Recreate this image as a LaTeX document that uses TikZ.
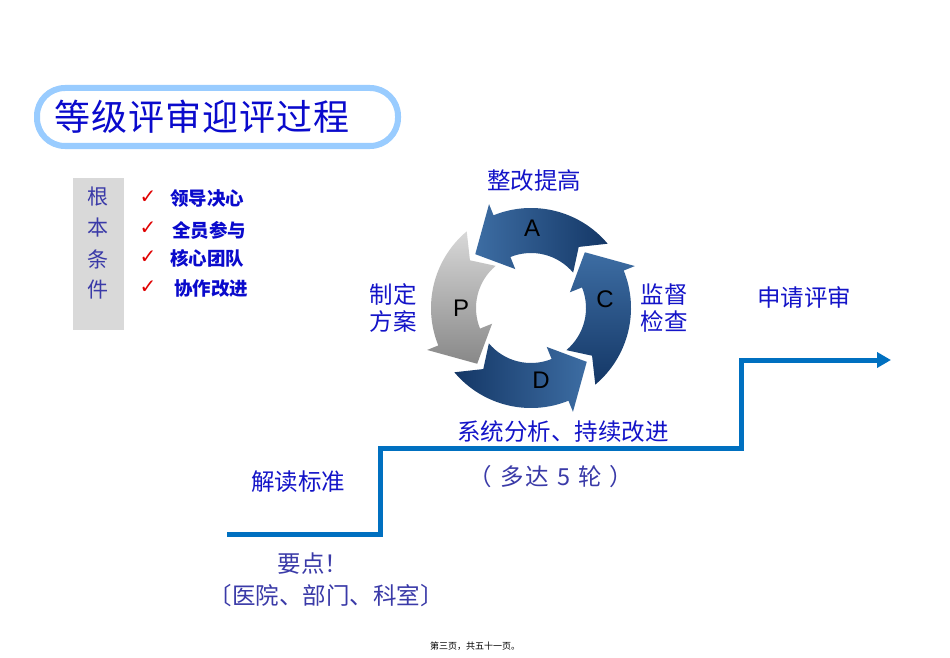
\documentclass[tikz,border=0pt]{standalone}
\usepackage{fontspec}
\newfontfamily\cjk{Noto Sans CJK SC}
\newfontfamily\latf{Liberation Sans}
\newfontfamily\symf{DejaVu Sans}
\usetikzlibrary{calc,arrows.meta}
\definecolor{ttlblue}{HTML}{0A0ACC}
\definecolor{lblblue}{HTML}{1414C8}
\definecolor{softblue}{HTML}{3A3AA8}
\definecolor{boxblue}{HTML}{99CCFF}
\definecolor{condgray}{HTML}{D9D9D9}
\definecolor{stepblue}{HTML}{0070C0}
\definecolor{bluedark}{HTML}{143766}
\definecolor{bluelight}{HTML}{3D6DA3}
\definecolor{graylight}{HTML}{D8D8D8}
\definecolor{graydark}{HTML}{888888}
\definecolor{checkred}{HTML}{E00000}
\newcommand\pdcaarrow[2]{%
  \path[#2] ($(c)+(#1:100)$) arc[start angle=#1, end angle={#1+72}, radius=100]
    -- ($(c)+({#1+72}:112)$) -- ($(c)+({#1+96}:77.5)$) -- ($(c)+({#1+72}:42)$)
    -- ($(c)+({#1+72}:55)$) arc[start angle={#1+72}, end angle=#1, radius=55]
    -- ($(c)+({#1+12}:77.5)$) -- cycle;}
\begin{document}
\begin{tikzpicture}[x=1pt,y=1pt,
  lbl/.style={font=\cjk\fontsize{23.5}{28}\selectfont, text=lblblue, inner sep=0pt},
  soft/.style={font=\cjk\fontsize{23.5}{28}\selectfont, text=softblue, inner sep=0pt},
  item/.style={font=\cjk\bfseries\fontsize{18.5}{22}\selectfont, text=ttlblue, anchor=west, inner sep=0pt},
  chk/.style={font=\symf\fontsize{20}{22}\selectfont, text=checkred, inner sep=0pt},
  letter/.style={font=\latf\fontsize{24}{26}\selectfont, text=black, inner sep=0pt},
  stepline/.style={line width=5pt, draw=stepblue, line join=miter, -{Triangle[length=14pt,width=15pt]}}]
\useasboundingbox[fill=white] (0,0) rectangle (950,-658);

% title
\draw[line width=6pt, draw=boxblue, rounded corners=28pt] (37,-88) rectangle (398,-146);
\node[anchor=west, font=\cjk\fontsize{36}{40}\selectfont, text=ttlblue, inner sep=0pt] (title) at (54,-117) {等\kern1pt 级\kern1pt 评\kern1pt 审\kern1pt 迎\kern1pt 评\kern1pt 过\kern1pt 程};

% conditions
\node[fill=condgray, minimum width=51pt, minimum height=152pt, inner sep=0pt, anchor=north west] (cond) at (73,-178) {};
\node[soft, font=\cjk\fontsize{21}{25}\selectfont] (k1) at (98,-197) {根};
\node[soft, font=\cjk\fontsize{21}{25}\selectfont] (k2) at (98,-228) {本};
\node[soft, font=\cjk\fontsize{21}{25}\selectfont] (k3) at (98,-259) {条};
\node[soft, font=\cjk\fontsize{21}{25}\selectfont] (k4) at (98,-290) {件};
\node[chk] (c1) at (148,-197) {✓};
\node[chk] (c2) at (148,-228) {✓};
\node[chk] (c3) at (148,-257) {✓};
\node[chk] (c4) at (148,-287) {✓};
\node[item] (i1) at (170,-199) {领导决心};
\node[item] (i2) at (172,-230) {全员参与};
\node[item] (i3) at (170,-258) {核心团队};
\node[item] (i4) at (174,-289) {协作改进};

% PDCA cycle
\coordinate (c) at (531,-308);
\pdcaarrow{40}{left color=bluelight, right color=bluedark}
\pdcaarrow{130}{top color=graylight, bottom color=graydark}
\pdcaarrow{220}{left color=bluedark, right color=bluelight}
\pdcaarrow{310}{top color=bluelight, bottom color=bluedark}
\node[letter] (la) at (532,-228) {A};
\node[letter] (lp) at (461,-308) {P};
\node[letter] (lc) at (605,-299) {C};
\node[letter] (ld) at (541,-380) {D};

\node[lbl] (act) at (534,-181) {整改提高};
\node[lbl, align=center, font=\cjk\fontsize{23.5}{27}\selectfont] (plan) at (393,-308) {制定\\方案};
\node[lbl, align=center, font=\cjk\fontsize{23.5}{27}\selectfont] (check) at (664,-308) {监督\\检查};
\node[lbl] (apply) at (804,-297) {申请评审};
\node[lbl] (sys) at (563,-432) {系统分析、持续改进};
\node[soft] (rounds) at (551,-477) {（\kern8pt 多\kern2pt 达\kern8pt 5\kern8pt 轮\kern8pt ）};
\node[lbl] (read) at (298,-482) {解读标准};
\node[soft] (key) at (313,-564) {要点！};
\node[soft] (scope) at (326,-596) {〔医院、部门、科室〕};

% step line
\coordinate (s0) at (227,-534);
\coordinate (s1) at (380,-534);
\coordinate (s2) at (380,-448);
\coordinate (s3) at (741,-448);
\coordinate (s4) at (741,-360);
\coordinate (s5) at (891,-360);
\draw[stepline] (s0) -- (s1) -- (s2) -- (s3) -- (s4) -- (s5);

% footer
\node[font=\cjk\fontsize{9}{11}\selectfont, text=black, inner sep=0pt] (foot) at (475,-646) {第三页，共五十一页。};
\end{tikzpicture}
\end{document}
